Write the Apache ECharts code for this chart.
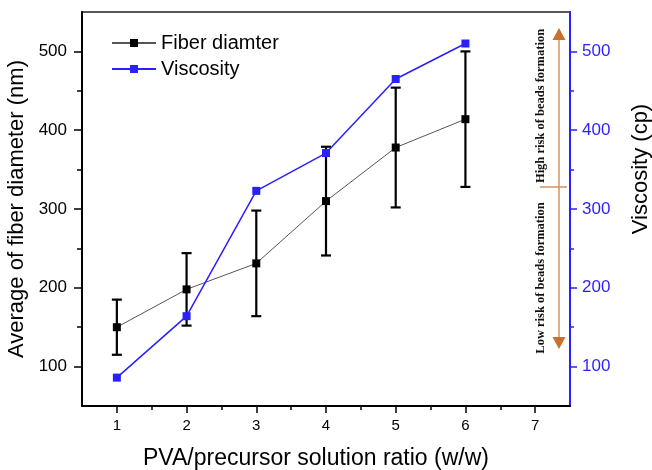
<!DOCTYPE html>
<html>
<head>
<meta charset="utf-8">
<script src="https://cdn.jsdelivr.net/npm/echarts@6/dist/echarts.min.js"></script>
<style>html,body{margin:0;padding:0;background:#fff;}#c{width:652px;height:470px;}</style>
</head>
<body>
<div id="c"></div>
<script>
// ---- data ----
const ratio = [1, 2, 3, 4, 5, 6];
const fiberDiameter = [150, 198, 231, 310, 378, 414];
const fiberError = [35, 46, 67, 69, 76, 86];
const viscosity = [86, 164, 323, 371, 465, 510];
const xTickLabels = [1, 2, 3, 4, 5, 6, 7];
const xMinorTicks = [1.5, 2.5, 3.5, 4.5, 5.5, 6.5];
const yTickLabels = [100, 200, 300, 400, 500];
const yMinorTicks = [150, 250, 350, 450];

const FONT = "'Liberation Sans', Arial, sans-serif";
const BLUE = '#2a1fff';

const fiberData = ratio.map((x, i) => [x, fiberDiameter[i]]);
const errData = ratio.map((x, i) => [x, fiberDiameter[i], fiberError[i]]);
const viscData = ratio.map((x, i) => [x, viscosity[i]]);

const chart = echarts.init(document.getElementById('c'), null, {renderer: 'canvas'});
const option = {
  animation: false,
  textStyle: {fontFamily: FONT},
  grid: {left: 82, right: 82, top: 12, bottom: 64, outerBoundsMode: 'none', containLabel: false,
    show: true, borderColor: '#222', borderWidth: 1.5, backgroundColor: 'transparent'},
  legend: {
    data: ['Fiber diamter', 'Viscosity'],
    orient: 'vertical', left: 106, top: 28,
    itemWidth: 44, itemHeight: 10, itemGap: 6,
    textStyle: {fontSize: 20, color: '#000', fontFamily: FONT}
  },
  xAxis: [{
    type: 'value', min: 0.5, max: 7.5, position: 'bottom',
    axisLine: {lineStyle: {color: '#000', width: 2}},
    axisTick: {customValues: xTickLabels, length: 7, lineStyle: {color: '#000', width: 1.5}},
    axisLabel: {customValues: xTickLabels, fontSize: 15, color: '#000', margin: 12, fontFamily: FONT},
    splitLine: {show: false},
    name: 'PVA/precursor solution ratio (w/w)', nameLocation: 'middle', nameGap: 41,
    nameTextStyle: {fontSize: 23, color: '#000', fontFamily: FONT, padding: [0, 20, 0, 0]}
  }, {
    type: 'value', min: 0.5, max: 7.5, position: 'bottom',
    axisLine: {show: false},
    axisTick: {customValues: xMinorTicks, length: 4, lineStyle: {color: '#000', width: 1.5}},
    axisLabel: {show: false}, splitLine: {show: false}
  }],
  yAxis: [{
    type: 'value', min: 50, max: 550, position: 'left',
    axisLine: {show: true, lineStyle: {color: '#000', width: 2}},
    axisTick: {show: true, customValues: yTickLabels, length: 8, lineStyle: {color: '#000', width: 1.5}},
    axisLabel: {customValues: yTickLabels, fontSize: 17, color: '#000', margin: 15, fontFamily: FONT},
    splitLine: {show: false},
    name: 'Average of fiber diameter (nm)', nameLocation: 'middle', nameGap: 52,
    nameTextStyle: {fontSize: 22, color: '#000', fontFamily: FONT}
  }, {
    type: 'value', min: 50, max: 550, position: 'right',
    axisLine: {show: true, lineStyle: {color: BLUE, width: 2}},
    axisTick: {show: true, customValues: yTickLabels, length: 7, lineStyle: {color: BLUE, width: 1.5}},
    axisLabel: {customValues: yTickLabels, fontSize: 17, color: BLUE, margin: 12, fontFamily: FONT},
    splitLine: {show: false},
    name: 'Viscosity (cp)', nameLocation: 'middle', nameGap: 60,
    nameTextStyle: {fontSize: 22, color: '#000', fontFamily: FONT, padding: [0, 0, 0, 80]}
  }, {
    type: 'value', min: 50, max: 550, position: 'left',
    axisLine: {show: false},
    axisTick: {show: true, customValues: yMinorTicks, length: 5, lineStyle: {color: '#000', width: 1.5}},
    axisLabel: {show: false}, splitLine: {show: false}
  }, {
    type: 'value', min: 50, max: 550, position: 'right',
    axisLine: {show: false},
    axisTick: {show: true, customValues: yMinorTicks, length: 4, lineStyle: {color: BLUE, width: 1.5}},
    axisLabel: {show: false}, splitLine: {show: false}
  }],
  series: [{
    type: 'custom', name: 'err', xAxisIndex: 0, yAxisIndex: 0, z: 1,
    encode: {x: 0, y: 1},
    data: errData,
    renderItem: function (params, api) {
      const x = api.value(0), y = api.value(1), e = api.value(2);
      const top = api.coord([x, y + e]);
      const bot = api.coord([x, y - e]);
      const hw = 5;
      const st = {stroke: '#000', lineWidth: 2.2};
      return {type: 'group', children: [
        {type: 'line', shape: {x1: top[0], y1: top[1], x2: bot[0], y2: bot[1]}, style: st},
        {type: 'line', shape: {x1: top[0] - hw, y1: top[1], x2: top[0] + hw, y2: top[1]}, style: st},
        {type: 'line', shape: {x1: bot[0] - hw, y1: bot[1], x2: bot[0] + hw, y2: bot[1]}, style: st}
      ]};
    }
  }, {
    type: 'line', name: 'Fiber diamter', xAxisIndex: 0, yAxisIndex: 0, z: 3,
    data: fiberData, symbol: 'rect', symbolSize: 8,
    itemStyle: {color: '#000'}, lineStyle: {color: '#555', width: 1}
  }, {
    type: 'line', name: 'Viscosity', xAxisIndex: 0, yAxisIndex: 1, z: 4,
    data: viscData, symbol: 'rect', symbolSize: 8,
    itemStyle: {color: BLUE}, lineStyle: {color: BLUE, width: 1.5}
  }],
  graphic: [
    {type: 'line', shape: {x1: 559, y1: 36, x2: 559, y2: 342}, style: {stroke: '#d4925f', lineWidth: 1.5}},
    {type: 'polygon', shape: {points: [[559, 28], [552.5, 40], [565.5, 40]]}, style: {fill: '#c8702f'}},
    {type: 'polygon', shape: {points: [[559, 349], [552.5, 337], [565.5, 337]]}, style: {fill: '#c8702f'}},
    {type: 'line', shape: {x1: 540, y1: 187, x2: 567, y2: 187}, style: {stroke: '#d4925f', lineWidth: 1.5}},
    {type: 'text', x: 541, y: 106, rotation: Math.PI / 2,
      style: {text: 'High risk of beads formation', font: "bold 12.5px 'Liberation Serif', 'Times New Roman', serif", fill: '#111', align: 'center', verticalAlign: 'middle'}},
    {type: 'text', x: 541, y: 278, rotation: Math.PI / 2,
      style: {text: 'Low risk of beads formation', font: "bold 12.5px 'Liberation Serif', 'Times New Roman', serif", fill: '#111', align: 'center', verticalAlign: 'middle'}}
  ]
};
chart.setOption(option);
</script>
</body>
</html>
